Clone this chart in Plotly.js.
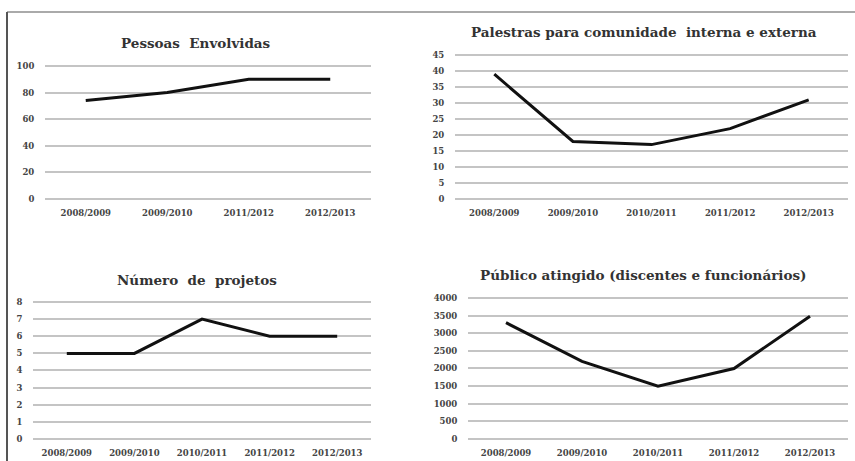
<!DOCTYPE html>
<html><head><meta charset="utf-8">
<script src="https://cdn.plot.ly/plotly-3.0.1.min.js"></script>
<style>html,body{margin:0;padding:0;background:#fff}#c{width:855px;height:461px}</style>
</head><body><div id="c"></div>
<script>
// Data
const catsPessoas = ["2008/2009","2009/2010","2011/2012","2012/2013"];
const valsPessoas = [74, 80, 90, 90];
const catsPalestras = ["2008/2009","2009/2010","2010/2011","2011/2012","2012/2013"];
const valsPalestras = [39, 18, 17, 22, 31];
const catsProjetos = ["2008/2009","2009/2010","2010/2011","2011/2012","2012/2013"];
const valsProjetos = [5, 5, 7, 6, 6];
const catsPublico = ["2008/2009","2009/2010","2010/2011","2011/2012","2012/2013"];
const valsPublico = [3300, 2200, 1500, 2000, 3480];
const titles = ["Pessoas  Envolvidas","Palestras para comunidade  interna e externa","Número  de  projetos","Público atingido (discentes e funcionários)"];

const W = 855, H = 461;
const px = x => x / W;
const py = y => 1 - y / H;
const FONT = "DejaVu Serif";
const lineStyle = {color:'#111', width:3};

const traces = [
  {x:catsPessoas, y:valsPessoas, xaxis:'x', yaxis:'y'},
  {x:catsPalestras, y:valsPalestras, xaxis:'x2', yaxis:'y2'},
  {x:catsProjetos, y:valsProjetos, xaxis:'x3', yaxis:'y3'},
  {x:catsPublico, y:valsPublico, xaxis:'x4', yaxis:'y4'}
].map(t => Object.assign(t, {type:'scatter', mode:'lines', line:lineStyle, hoverinfo:'skip'}));

function xa(l, r, n, anchor){
  return {domain:[px(l), px(r)], anchor:anchor, type:'category', range:[-0.5, n-0.5],
    showgrid:false, zeroline:false, showline:false,
    ticks:'outside', ticklen:4, tickcolor:'rgba(0,0,0,0)',
    tickfont:{family:FONT, size:8.5, color:'#444', weight:'bold'}, fixedrange:true};
}
function ya(bottomPx, topPx, maxV, dt, anchor){
  const pad = maxV * 0.012;
  const s = (bottomPx - topPx) / maxV;
  return {domain:[py(bottomPx + pad*s), py(topPx - pad*s)], anchor:anchor, range:[-pad, maxV + pad], dtick:dt, tick0:0,
    showgrid:true, gridcolor:'#c4c4c4', gridwidth:2, zeroline:false, showline:false,
    ticks:'outside', ticklen:8, tickcolor:'rgba(0,0,0,0)',
    tickfont:{family:FONT, size:8.5, color:'#444', weight:'bold'}, fixedrange:true};
}

const titlePos = [[196,43],[644,32],[197,280],[643,275]];
const annotations = titles.map((t,i)=>({text:t, xref:'paper', yref:'paper', x:px(titlePos[i][0]), y:py(titlePos[i][1]),
  xanchor:'center', yanchor:'middle', showarrow:false, font:{family:FONT, size:13.5, color:'#333', weight:'bold'}}));

const layout = {
  width:W, height:H, margin:{l:0,r:0,t:0,b:0}, showlegend:false,
  paper_bgcolor:'#fff', plot_bgcolor:'rgba(0,0,0,0)',
  xaxis: xa(45, 371, catsPessoas.length, 'y'),
  yaxis: ya(199, 66, 100, 20, 'x'),
  xaxis2: xa(455, 848, catsPalestras.length, 'y2'),
  yaxis2: ya(199, 55, 45, 5, 'x2'),
  xaxis3: xa(33, 371, catsProjetos.length, 'y3'),
  yaxis3: ya(439, 302, 8, 1, 'x3'),
  xaxis4: xa(468, 848, catsPublico.length, 'y4'),
  yaxis4: ya(439, 298, 4000, 500, 'x4'),
  annotations: annotations,
  shapes:[
    {type:'line', xref:'paper', yref:'paper', x0:px(7), x1:1, y0:py(12), y1:py(12), line:{color:'#aaaaaa', width:2}},
    {type:'line', xref:'paper', yref:'paper', x0:px(7), x1:px(7), y0:py(12), y1:0, line:{color:'#555555', width:2}}
  ]
};

Plotly.newPlot('c', traces, layout, {staticPlot:true, displayModeBar:false});
</script></body></html>
